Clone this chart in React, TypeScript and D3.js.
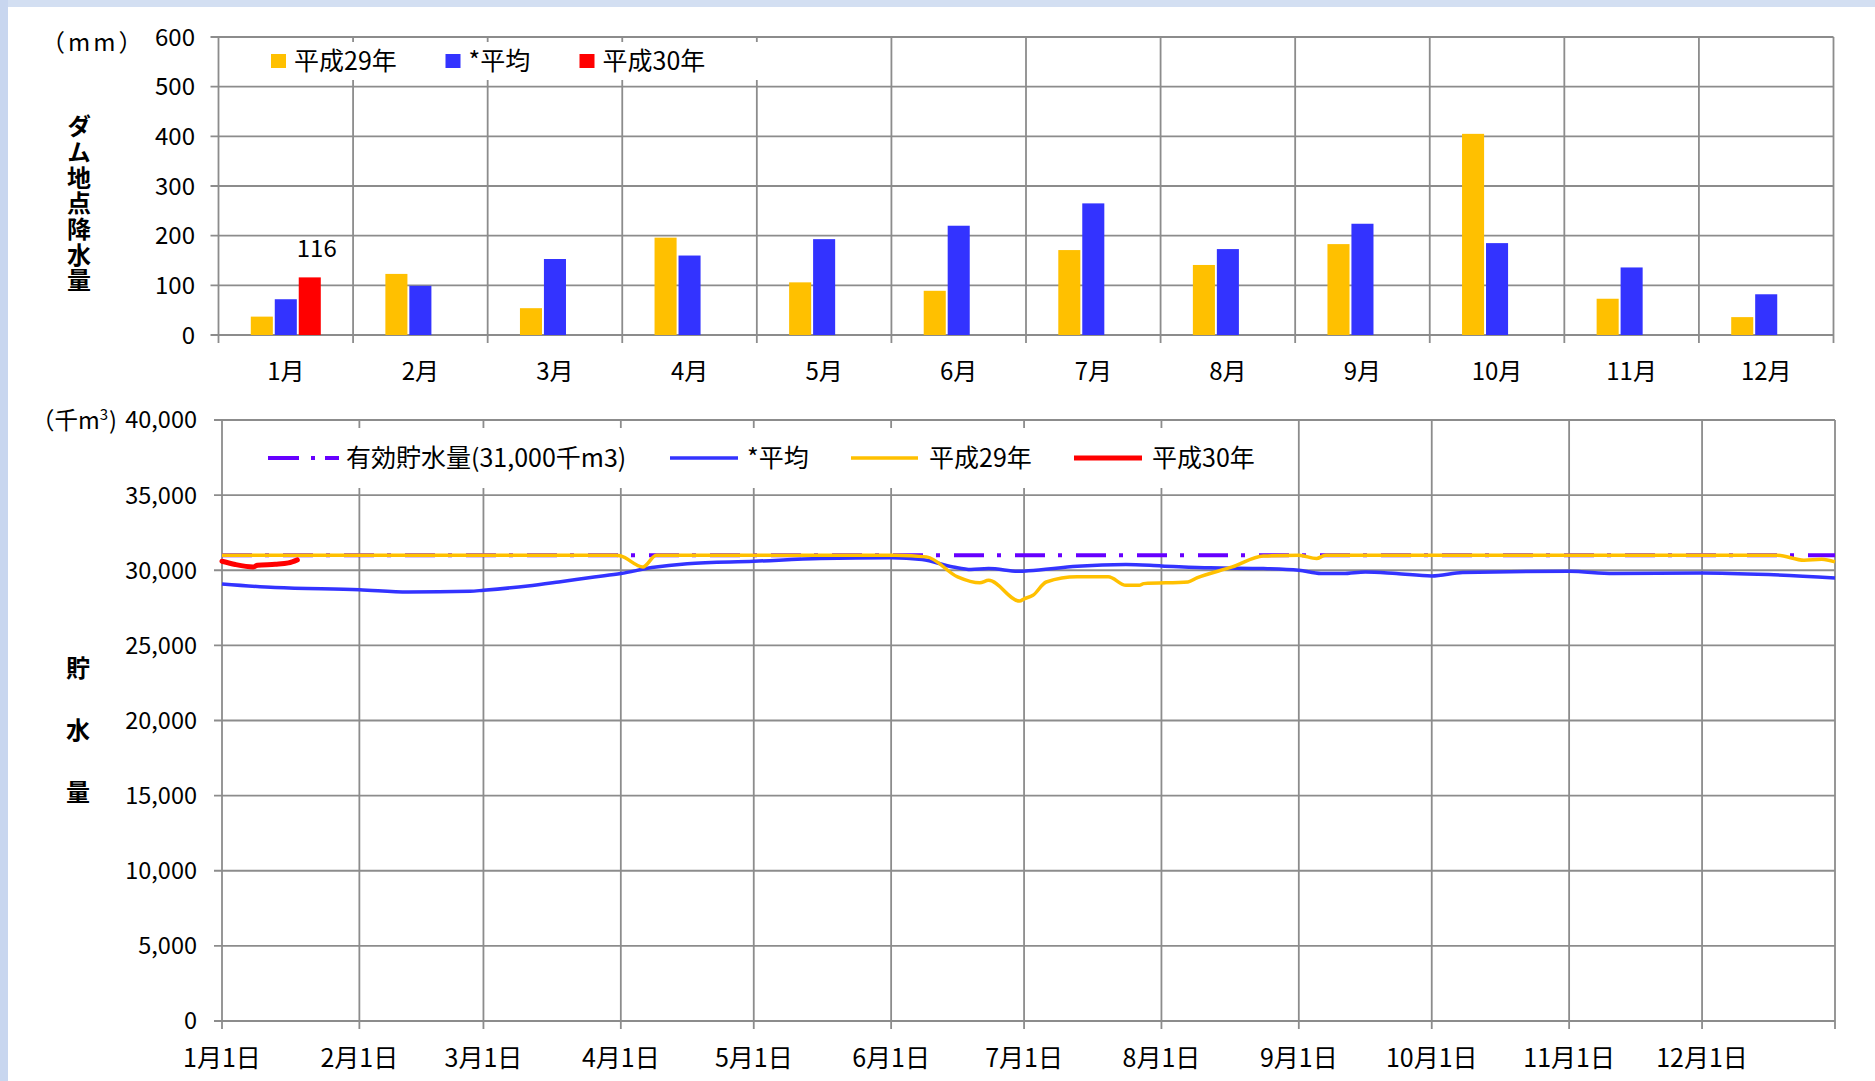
import { useEffect, useRef } from 'react'
import * as d3 from 'd3'

const W = 1875
const H = 1081
const FONT = "'Noto Sans CJK JP', 'Noto Sans', sans-serif"

// monthly rainfall at dam site (mm)
const months = ['1月', '2月', '3月', '4月', '5月', '6月', '7月', '8月', '9月', '10月', '11月', '12月']
const rainH29 = [37, 123, 54, 196, 106, 89, 171, 141, 183, 405, 73, 36]
const rainAvg = [72, 99, 153, 160, 193, 220, 265, 173, 224, 185, 136, 82]
const rainH30 = [116]
const rainTicks = [0, 100, 200, 300, 400, 500, 600]

// storage (thousand m3)
const capacityDates = ['1/1', '12/31']
const capacity = [31000, 31000]

const avgDates = ['1/1', '1/13', '2/1', '2/12', '2/26', '3/1', '3/11', '3/18', '3/26', '4/1', '4/8', '4/16', '5/1', '5/16', '6/1', '6/8', '6/15', '6/19', '6/23', '6/30', '7/2', '7/13', '7/24', '8/1', '8/12', '8/24', '9/1', '9/6', '9/11', '9/16', '9/23', '10/1', '10/8', '11/1', '11/11', '12/1', '12/16', '12/31']
const storageAvg = [29090, 28850, 28710, 28560, 28600, 28670, 28950, 29220, 29550, 29780, 30180, 30440, 30600, 30780, 30840, 30710, 30220, 30050, 30110, 29930, 29960, 30270, 30380, 30290, 30160, 30110, 30000, 29780, 29780, 29890, 29780, 29620, 29850, 29930, 29780, 29820, 29710, 29490]

const h29Dates = ['1/1', '3/31', '4/1', '4/6', '4/9', '6/2', '6/9', '6/16', '6/21', '6/23', '6/30', '7/1', '7/3', '7/6', '7/13', '7/20', '7/24', '7/27', '7/28', '8/7', '8/9', '8/17', '8/24', '9/1', '9/5', '9/7', '12/18', '12/24', '12/28', '12/31']
const storageH29 = [31000, 31000, 30950, 30220, 31000, 31000, 30890, 29560, 29160, 29330, 27950, 28100, 28330, 29220, 29560, 29560, 29000, 29000, 29110, 29220, 29490, 30220, 30950, 31000, 30780, 31000, 31000, 30670, 30730, 30555]

const h30Dates = ['1/1', '1/4', '1/8', '1/9', '1/13', '1/16', '1/18']
const storageH30 = [30600, 30380, 30220, 30330, 30400, 30490, 30690]

const storageTicks = [0, 5000, 10000, 15000, 20000, 25000, 30000, 35000, 40000]
const monthStarts = ['1/1', '2/1', '3/1', '4/1', '5/1', '6/1', '7/1', '8/1', '9/1', '10/1', '11/1', '12/1']

const YELLOW = '#ffc000'
const BLUE = '#3333ff'
const RED = '#ff0000'
const PURPLE = '#6600ff'
const GRID = '#8c8c8c'

const parse = d3.timeParse('%Y/%m/%d')
const toDate = (s: string) => parse('2017/' + s) as Date

export default function App() {
  const svgRef = useRef<SVGSVGElement>(null)

  useEffect(() => {
    if (!svgRef.current) return
    const svg = d3.select(svgRef.current)
    svg.selectAll('*').remove()

    // background strips
    svg.append('rect').attr('width', W).attr('height', H).attr('fill', '#fff')
    svg.append('rect').attr('width', W).attr('height', 7).attr('fill', '#d3dff2')
    svg.append('rect').attr('width', 8).attr('height', H).attr('fill', '#c8d6ef')

    // ---------- rainfall chart ----------
    const t = { left: 218.5, right: 1833.5, top: 37, bottom: 335 }
    const xMonth = d3.scaleBand().domain(months).range([t.left, t.right])
    const bw = xMonth.bandwidth()
    const xSeries = d3.scaleBand()
      .domain(['h29', 'avg', 'h30'])
      .range([bw / 2 - 35, bw / 2 + 35])
      .paddingInner(0.08)
    const yRain = d3.scaleLinear().domain([0, 600]).range([t.bottom, t.top])

    const g1 = svg.append('g')
    rainTicks.forEach(v => {
      g1.append('line')
        .attr('x1', t.left - 8).attr('x2', t.right)
        .attr('y1', yRain(v)).attr('y2', yRain(v))
        .attr('stroke', GRID).attr('stroke-width', 1.8)
      g1.append('text')
        .attr('x', 195).attr('y', yRain(v))
        .attr('dy', '0.36em')
        .attr('text-anchor', 'end')
        .style('font-size', '24px')
        .text(v)
    })
    const bounds = months.map(m => xMonth(m)!).concat([t.right])
    bounds.forEach(x => {
      g1.append('line')
        .attr('x1', x).attr('x2', x)
        .attr('y1', t.top).attr('y2', t.bottom + 8)
        .attr('stroke', GRID).attr('stroke-width', 1.8)
    })
    months.forEach(m => {
      g1.append('text')
        .attr('x', xMonth(m)! + bw / 2).attr('y', 380)
        .attr('text-anchor', 'middle')
        .style('font-size', '24px')
        .text(m)
    })

    // legend (white box over grid)
    g1.append('rect').attr('x', 262).attr('y', 42).attr('width', 520).attr('height', 38).attr('fill', '#fff')
    const legTop = [
      { x: 271, color: YELLOW, label: '平成29年' },
      { x: 445.5, color: BLUE, label: '*平均' },
      { x: 579.5, color: RED, label: '平成30年' },
    ]
    legTop.forEach(l => {
      g1.append('rect').attr('x', l.x).attr('y', 54).attr('width', 15).attr('height', 14).attr('fill', l.color)
      g1.append('text').attr('x', l.x + 23).attr('y', 70).style('font-size', '25px').text(l.label)
    })

    const barSets = [
      { key: 'h29', values: rainH29, color: YELLOW },
      { key: 'avg', values: rainAvg, color: BLUE },
      { key: 'h30', values: rainH30, color: RED },
    ]
    barSets.forEach(s => {
      g1.selectAll(null)
        .data(s.values)
        .enter()
        .append('rect')
        .attr('x', (_, i) => xMonth(months[i])! + xSeries(s.key)!)
        .attr('y', d => yRain(d))
        .attr('width', xSeries.bandwidth())
        .attr('height', d => t.bottom - yRain(d))
        .attr('fill', s.color)
    })
    rainH30.forEach((v, i) => {
      g1.append('text')
        .attr('x', xMonth(months[i])! + xSeries('h30')! + xSeries.bandwidth() / 2 + 7)
        .attr('y', yRain(v) - 20)
        .attr('text-anchor', 'middle')
        .style('font-size', '24px')
        .text(v)
    })

    g1.append('text')
      .attr('x', 41).attr('y', 51)
      .style('font-size', '24px').style('letter-spacing', '3px')
      .text('（mm）')
    g1.append('text')
      .attr('x', 79).attr('y', 114)
      .style('writing-mode', 'vertical-rl')
      .style('font-size', '24px').style('font-weight', 'bold')
      .style('letter-spacing', '1.7px')
      .text('ダム地点降水量')

    // ---------- storage chart ----------
    const b = { left: 222, right: 1835, top: 420, bottom: 1021 }
    const xDate = d3.scaleTime().domain([toDate('1/1'), toDate('12/31')]).range([b.left, b.right])
    const yStore = d3.scaleLinear().domain([0, 40000]).range([b.bottom, b.top])
    const fmt = d3.format(',')

    const g2 = svg.append('g')
    storageTicks.forEach(v => {
      g2.append('line')
        .attr('x1', b.left - 8).attr('x2', b.right)
        .attr('y1', yStore(v)).attr('y2', yStore(v))
        .attr('stroke', GRID).attr('stroke-width', 1.8)
      g2.append('text')
        .attr('x', 197).attr('y', yStore(v))
        .attr('dy', '0.36em')
        .attr('text-anchor', 'end')
        .style('font-size', '23.5px')
        .text(fmt(v))
    })
    const vlines = monthStarts.map(s => xDate(toDate(s))).concat([b.right])
    vlines.forEach(x => {
      g2.append('line')
        .attr('x1', x).attr('x2', x)
        .attr('y1', b.top).attr('y2', b.bottom + 8)
        .attr('stroke', GRID).attr('stroke-width', 1.8)
    })
    monthStarts.forEach((s, i) => {
      g2.append('text')
        .attr('x', xDate(toDate(s))).attr('y', 1067)
        .attr('text-anchor', 'middle')
        .style('font-size', '25px')
        .text(`${i + 1}月1日`)
    })

    const lineGen = d3.line<[Date, number]>()
      .x(d => xDate(d[0]))
      .y(d => yStore(d[1]))
      .curve(d3.curveMonotoneX)
    const pairs = (dates: string[], vals: number[]) =>
      dates.map((s, i) => [toDate(s), vals[i]] as [Date, number])

    g2.append('path')
      .attr('d', lineGen(pairs(capacityDates, capacity)))
      .attr('fill', 'none').attr('stroke', PURPLE).attr('stroke-width', 4)
      .attr('stroke-dasharray', '30,13,4,14')
    g2.append('path')
      .attr('d', lineGen(pairs(avgDates, storageAvg)))
      .attr('fill', 'none').attr('stroke', BLUE).attr('stroke-width', 3.5)
    g2.append('path')
      .attr('d', lineGen(pairs(h29Dates, storageH29)))
      .attr('fill', 'none').attr('stroke', YELLOW).attr('stroke-width', 3.5)
    g2.append('path')
      .attr('d', lineGen(pairs(h30Dates, storageH30)))
      .attr('fill', 'none').attr('stroke', RED).attr('stroke-width', 5)
      .attr('stroke-linecap', 'round')

    // legend
    g2.append('rect').attr('x', 262).attr('y', 428).attr('width', 1020).attr('height', 60).attr('fill', '#fff')
    const legBottom = [
      { x1: 268, x2: 339, color: PURPLE, dash: '31,12,4,10', w: 4, label: '有効貯水量(31,000千m3)', tx: 346 },
      { x1: 670, x2: 738, color: BLUE, dash: null, w: 3.5, label: '*平均', tx: 747 },
      { x1: 851, x2: 918, color: YELLOW, dash: null, w: 3.5, label: '平成29年', tx: 929 },
      { x1: 1074, x2: 1142, color: RED, dash: null, w: 5, label: '平成30年', tx: 1152 },
    ]
    legBottom.forEach(l => {
      const ln = g2.append('line')
        .attr('x1', l.x1).attr('x2', l.x2).attr('y1', 458).attr('y2', 458)
        .attr('stroke', l.color).attr('stroke-width', l.w)
      if (l.dash) ln.attr('stroke-dasharray', l.dash)
      g2.append('text').attr('x', l.tx).attr('y', 467).style('font-size', '25px').text(l.label)
    })

    const unit = g2.append('text').attr('x', 31).attr('y', 429).style('font-size', '23.5px')
    unit.append('tspan').text('（千m')
    unit.append('tspan').attr('dy', -9).style('font-size', '15px').text('3')
    unit.append('tspan').attr('dy', 9).attr('dx', 1).text(')')

    Array.from('貯水量').forEach((ch, i) => {
      g2.append('text')
        .attr('x', 78).attr('y', 668 + i * 62)
        .attr('dy', '0.36em')
        .attr('text-anchor', 'middle')
        .style('font-size', '24px').style('font-weight', 'bold')
        .text(ch)
    })
  }, [])

  return (
    <svg
      ref={svgRef}
      width={W}
      height={H}
      style={{ position: 'absolute', left: 0, top: 0, fontFamily: FONT, fill: '#000' }}
    />
  )
}
